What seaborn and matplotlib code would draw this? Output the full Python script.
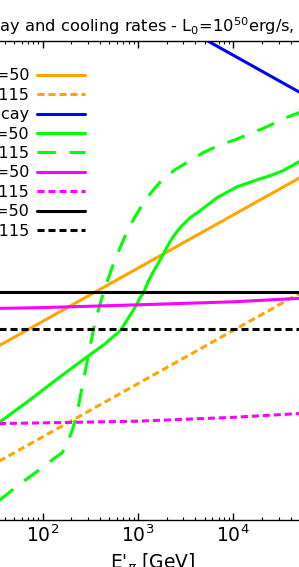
import seaborn as sns
import matplotlib.pyplot as plt

# comoving pion energy [GeV] and rates [1/s]
E_line = [20, 1e5]
sync_50 = [1.08e-3, 5.4]
sync_115 = [7.3e-6, 3.65e-2]
decay = [2.7e5, 54]

E_flat = [20, 100, 1000, 1e4, 1e5]
pp_50 = [9.29e-3, 9.79e-3, 1.104e-2, 1.258e-2, 1.563e-2]
pp_115 = [6.40e-5, 6.68e-5, 7.19e-5, 8.49e-5, 1.077e-4]
adiab_50 = [1.94e-2, 1.94e-2, 1.94e-2, 1.94e-2, 1.94e-2]
adiab_115 = [3.85e-3, 3.85e-3, 3.85e-3, 3.85e-3, 3.85e-3]

E_pg50 = [20, 35.6, 73.6, 152, 292, 451, 547, 617, 671, 748, 845, 964, 1050,
          1156, 1274, 1507, 1832, 2018, 2330, 2760, 3515, 4477, 6749, 10940,
          17740, 24270, 33200, 48900, 1e5]
pg_50 = [3.21e-5, 6.98e-5, 1.81e-4, 4.90e-4, 1.16e-3, 2.04e-3, 2.77e-3,
         3.29e-3, 3.91e-3, 5.30e-3, 7.48e-3, 1.10e-2, 1.50e-2, 1.94e-2,
         2.99e-2, 5.25e-2, 9.62e-2, 0.136, 0.209, 0.310, 0.477, 0.646, 1.135,
         1.82, 2.47, 2.94, 3.65, 5.38, 11.0]

E_pg115 = [20, 35.6, 51.2, 68.4, 98.3, 134.6, 159.4, 177.7, 203, 229, 246.3,
           268, 313.6, 353.8, 409, 461.6, 533.6, 617, 748, 866.5, 1077, 1371,
           1788, 2445, 3512, 4808, 7252, 10420, 14970, 22580, 33230, 48930, 1e5]
pg_115 = [1.07e-6, 2.39e-6, 4.01e-6, 5.93e-6, 9.53e-6, 1.47e-5, 1.82e-5,
          2.58e-5, 4.73e-5, 9.86e-5, 1.97e-4, 4.30e-4, 1.79e-3, 5.30e-3,
          1.31e-2, 2.62e-2, 5.48e-2, 0.105, 0.239, 0.401, 0.767, 1.41, 2.47,
          3.81, 5.62, 7.94, 11.2, 13.9, 18.1, 24.5, 34.6, 44.9, 73]

sns.set_style("ticks")
plt.rcParams['font.family'] = ['DejaVu Sans']
plt.rcParams.update({'text.color': 'black', 'axes.labelcolor': 'black',
                     'axes.edgecolor': 'black', 'xtick.color': 'black',
                     'ytick.color': 'black'})

fig = plt.figure(figsize=(2.99, 5.67), dpi=100)
ax = fig.add_axes([-0.0799, 0.0829, 1.1789, 0.8448])
ax.set_xscale('log')
ax.set_yscale('log')

lw = 2.2
dot = (0, (2.3, 1.3))
dash = (0, (6, 4.5))

sns.lineplot(x=E_line, y=sync_50, ax=ax, color='orange', lw=lw, label='Synchrotron, Γ=50')
sns.lineplot(x=E_line, y=sync_115, ax=ax, color='orange', lw=lw, ls=dot, label='Synchrotron, Γ=115')
sns.lineplot(x=E_line, y=decay, ax=ax, color='blue', lw=lw, label='Pion decay')
sns.lineplot(x=E_pg50, y=pg_50, ax=ax, color='lime', lw=lw, label='pγ, Γ=50')
sns.lineplot(x=E_pg115, y=pg_115, ax=ax, color='lime', lw=lw, ls=dash, label='pγ, Γ=115')
sns.lineplot(x=E_flat, y=pp_50, ax=ax, color='magenta', lw=lw, label='pp, Γ=50')
sns.lineplot(x=E_flat, y=pp_115, ax=ax, color='magenta', lw=lw, ls=dot, label='pp, Γ=115')
sns.lineplot(x=E_flat, y=adiab_50, ax=ax, color='black', lw=lw, label='Adiabatic, Γ=50')
sns.lineplot(x=E_flat, y=adiab_115, ax=ax, color='black', lw=lw, ls=dot, label='Adiabatic, Γ=115')

ax.set_xlim(20, 1e5)
ax.set_ylim(1e-6, 1e3)
ax.tick_params(which='both', direction='in', top=True, right=True, labelsize=13.5)
ax.tick_params(which='major', length=5, width=1)
ax.tick_params(which='minor', length=2.5, width=0.8)
for s in ax.spines.values():
    s.set_linewidth(1.0)
ax.set_xlabel("E$'_\\pi$ [GeV]", fontsize=13.5)
ax.set_ylabel('Rate [s$^{-1}$]', fontsize=13.5)

ax.legend(loc='upper right', bbox_to_anchor=(0.3057, 0.8907), bbox_transform=fig.transFigure,
          frameon=False, markerfirst=False, fontsize=11.5, handlelength=3.0,
          handletextpad=0.5, labelspacing=0.275, borderaxespad=0)

fig.text(-0.231, 0.944, 'Pion decay and cooling rates - L$_0$=10$^{50}$erg/s, Γ=50, 115',
         ha='left', va='baseline', fontsize=11.7)

fig.savefig('out.png', dpi=100)
